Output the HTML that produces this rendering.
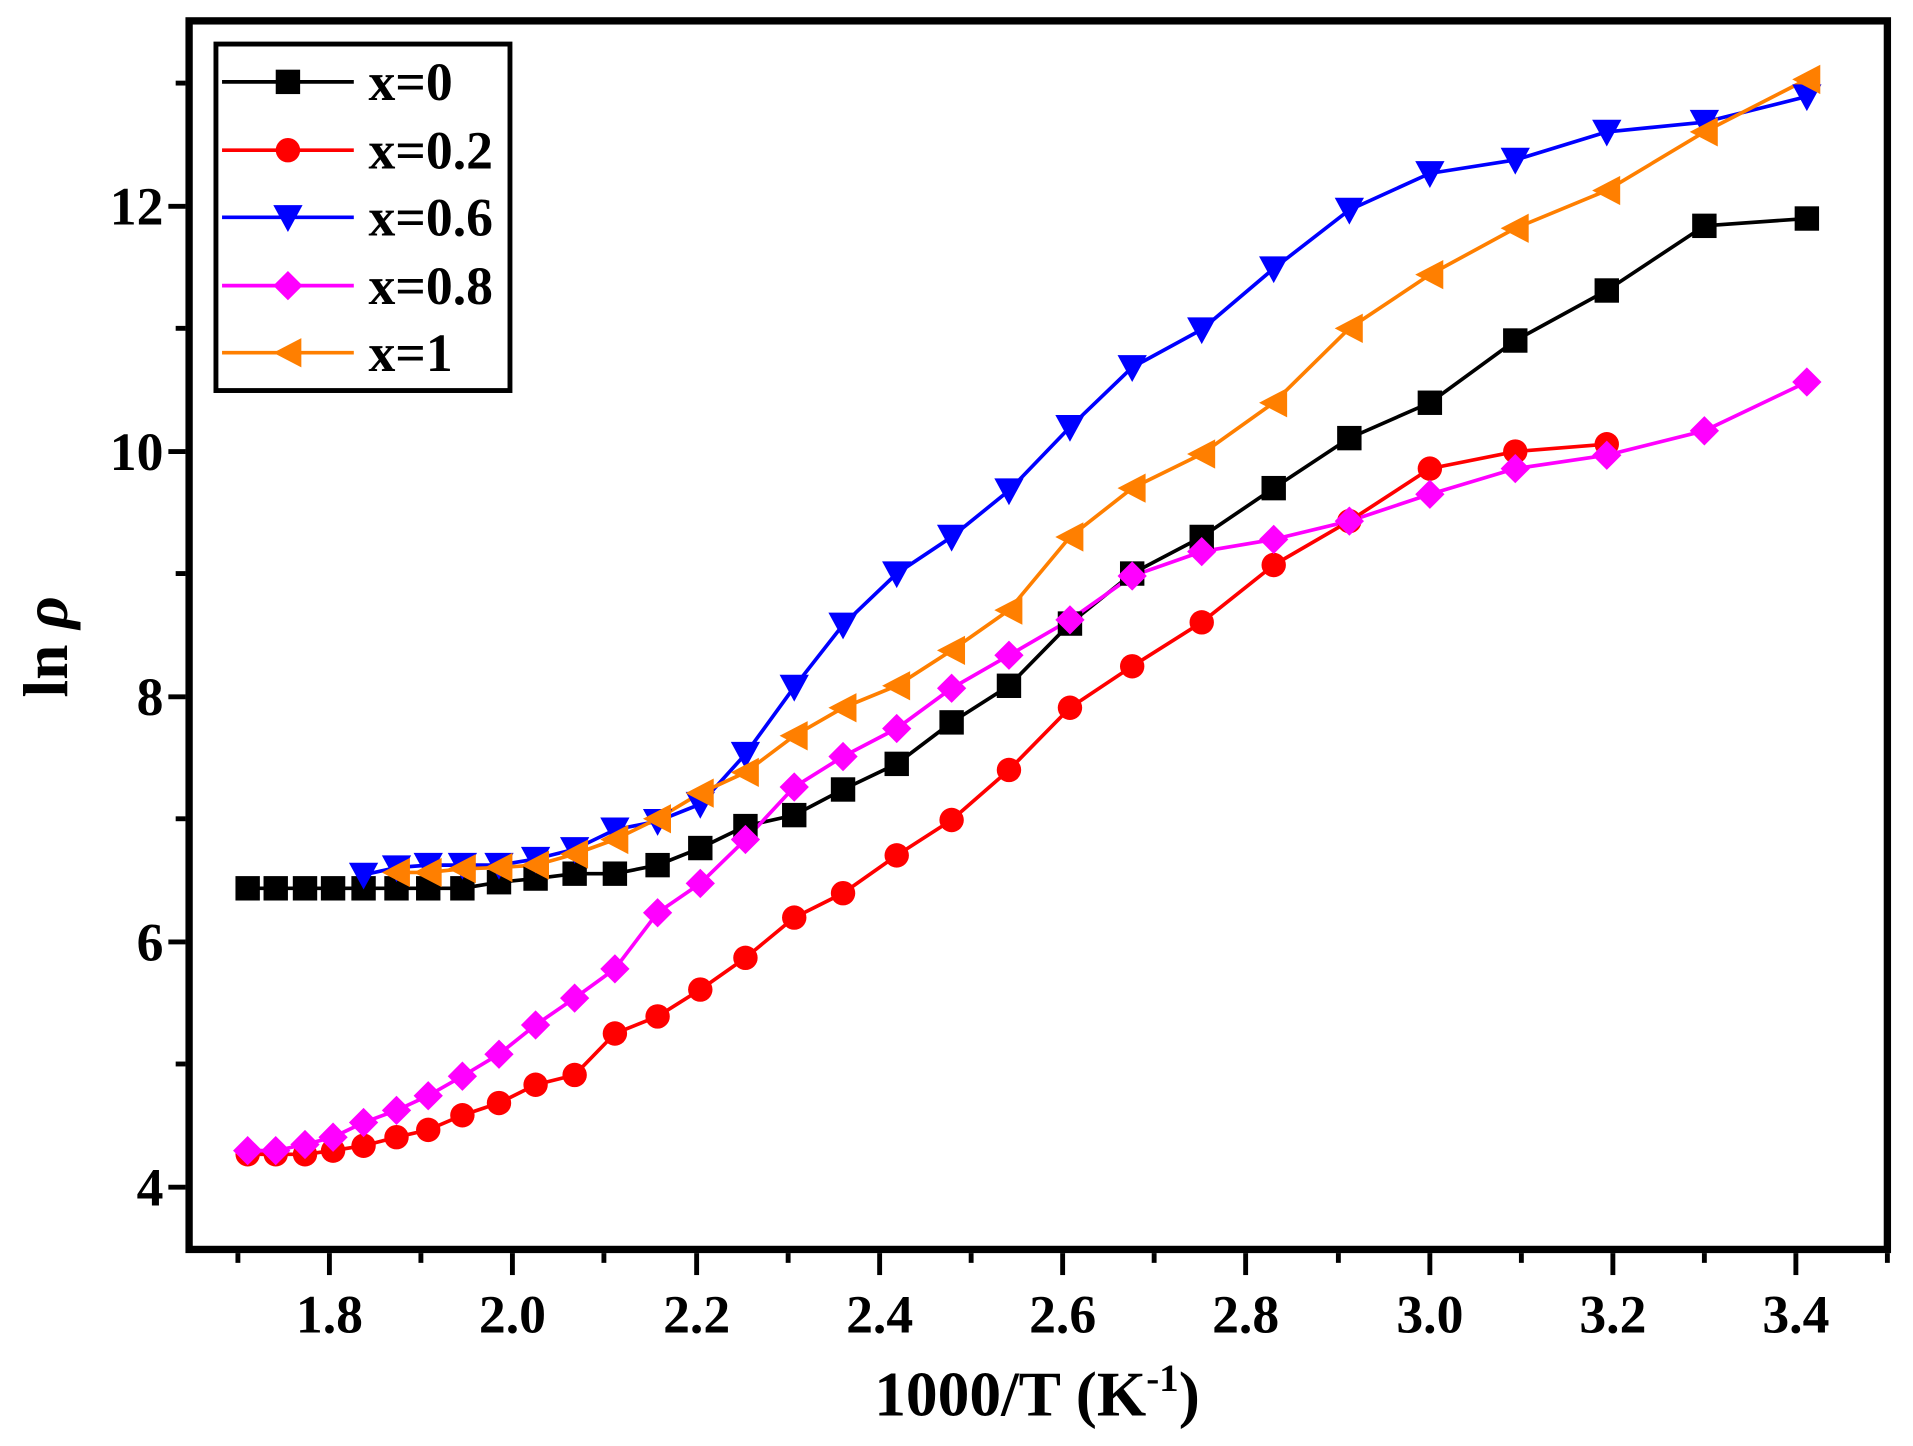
<!DOCTYPE html>
<html><head><meta charset="utf-8"><style>html,body{margin:0;padding:0;background:#fff}svg{display:block}</style></head>
<body>
<svg width="1913" height="1446" viewBox="0 0 1568 1185" xmlns="http://www.w3.org/2000/svg" font-family="'Liberation Serif',serif" font-weight="bold">
<defs>
<rect id="sq" x="-10" y="-10" width="20" height="20" fill="#000"/>
<circle id="ci" r="10" fill="#ff0000"/>
<polygon id="tr" points="-12,-10 12,-10 0,12" fill="#0000ff"/>
<polygon id="di" points="0,-12 12,0 0,12 -12,0" fill="#ff00ff"/>
<polygon id="tl" points="-12,0 11,-12 11,12" fill="#ff7f00"/>
</defs>
<g fill="none" stroke-width="3" stroke-linejoin="round">
<polyline stroke="#000" points="203,728 226,728 250,728 273,728 298,728 325,728 351,728 379,728 409,723 439,720 471,716 504,716 539,709 574,695 611,677 651,668 691,647 735,626 780,592 827,562 877,511 928,470 985,440 1044,400 1106,359 1172,330 1242,279 1317,238 1397,185 1481,179"/>
<polyline stroke="#ff0000" points="203,946 226,946 250,946 273,943 298,939 325,932 351,926 379,914 409,904 439,889 471,881 504,847 539,833 574,811 611,785 651,752 691,732 735,701 780,672 827,631 877,580 928,546 985,510 1044,463 1106,427 1172,384 1242,370 1317,364"/>
<polyline stroke="#0000ff" points="298,717 325,711 351,709 379,709 409,709 439,704 471,696 504,680 539,673 574,659 611,618 651,563 691,512 735,470 780,440 827,402 877,350 928,301 985,270 1044,220 1106,172 1172,142 1242,131 1317,108 1397,100 1481,79"/>
<polyline stroke="#ff00ff" points="203,943 226,943 250,938 273,932 298,920 325,910 351,898 379,882 409,864 439,840 471,818 504,794 539,748 574,724 611,688 651,645 691,620 735,597 780,564 827,537 877,508 928,472 985,452 1044,442 1106,427 1172,405 1242,384 1317,373 1397,353 1481,313"/>
<polyline stroke="#ff7f00" points="325,715 351,715 379,712 409,711 439,709 471,700 504,688 539,671 574,650 611,633 651,603 691,580 735,562 780,533 827,500 877,440 928,400 985,372 1044,330 1106,269 1172,225 1242,187 1317,156 1397,108 1481,65"/>
</g>
<g>
<use href="#sq" x="203" y="728"/><use href="#sq" x="226" y="728"/><use href="#sq" x="250" y="728"/><use href="#sq" x="273" y="728"/><use href="#sq" x="298" y="728"/><use href="#sq" x="325" y="728"/><use href="#sq" x="351" y="728"/><use href="#sq" x="379" y="728"/><use href="#sq" x="409" y="723"/><use href="#sq" x="439" y="720"/><use href="#sq" x="471" y="716"/><use href="#sq" x="504" y="716"/><use href="#sq" x="539" y="709"/><use href="#sq" x="574" y="695"/><use href="#sq" x="611" y="677"/><use href="#sq" x="651" y="668"/><use href="#sq" x="691" y="647"/><use href="#sq" x="735" y="626"/><use href="#sq" x="780" y="592"/><use href="#sq" x="827" y="562"/><use href="#sq" x="877" y="511"/><use href="#sq" x="928" y="470"/><use href="#sq" x="985" y="440"/><use href="#sq" x="1044" y="400"/><use href="#sq" x="1106" y="359"/><use href="#sq" x="1172" y="330"/><use href="#sq" x="1242" y="279"/><use href="#sq" x="1317" y="238"/><use href="#sq" x="1397" y="185"/><use href="#sq" x="1481" y="179"/>
<use href="#ci" x="203" y="946"/><use href="#ci" x="226" y="946"/><use href="#ci" x="250" y="946"/><use href="#ci" x="273" y="943"/><use href="#ci" x="298" y="939"/><use href="#ci" x="325" y="932"/><use href="#ci" x="351" y="926"/><use href="#ci" x="379" y="914"/><use href="#ci" x="409" y="904"/><use href="#ci" x="439" y="889"/><use href="#ci" x="471" y="881"/><use href="#ci" x="504" y="847"/><use href="#ci" x="539" y="833"/><use href="#ci" x="574" y="811"/><use href="#ci" x="611" y="785"/><use href="#ci" x="651" y="752"/><use href="#ci" x="691" y="732"/><use href="#ci" x="735" y="701"/><use href="#ci" x="780" y="672"/><use href="#ci" x="827" y="631"/><use href="#ci" x="877" y="580"/><use href="#ci" x="928" y="546"/><use href="#ci" x="985" y="510"/><use href="#ci" x="1044" y="463"/><use href="#ci" x="1106" y="427"/><use href="#ci" x="1172" y="384"/><use href="#ci" x="1242" y="370"/><use href="#ci" x="1317" y="364"/>
<use href="#tr" x="298" y="717"/><use href="#tr" x="325" y="711"/><use href="#tr" x="351" y="709"/><use href="#tr" x="379" y="709"/><use href="#tr" x="409" y="709"/><use href="#tr" x="439" y="704"/><use href="#tr" x="471" y="696"/><use href="#tr" x="504" y="680"/><use href="#tr" x="539" y="673"/><use href="#tr" x="574" y="659"/><use href="#tr" x="611" y="618"/><use href="#tr" x="651" y="563"/><use href="#tr" x="691" y="512"/><use href="#tr" x="735" y="470"/><use href="#tr" x="780" y="440"/><use href="#tr" x="827" y="402"/><use href="#tr" x="877" y="350"/><use href="#tr" x="928" y="301"/><use href="#tr" x="985" y="270"/><use href="#tr" x="1044" y="220"/><use href="#tr" x="1106" y="172"/><use href="#tr" x="1172" y="142"/><use href="#tr" x="1242" y="131"/><use href="#tr" x="1317" y="108"/><use href="#tr" x="1397" y="100"/><use href="#tr" x="1481" y="79"/>
<use href="#di" x="203" y="943"/><use href="#di" x="226" y="943"/><use href="#di" x="250" y="938"/><use href="#di" x="273" y="932"/><use href="#di" x="298" y="920"/><use href="#di" x="325" y="910"/><use href="#di" x="351" y="898"/><use href="#di" x="379" y="882"/><use href="#di" x="409" y="864"/><use href="#di" x="439" y="840"/><use href="#di" x="471" y="818"/><use href="#di" x="504" y="794"/><use href="#di" x="539" y="748"/><use href="#di" x="574" y="724"/><use href="#di" x="611" y="688"/><use href="#di" x="651" y="645"/><use href="#di" x="691" y="620"/><use href="#di" x="735" y="597"/><use href="#di" x="780" y="564"/><use href="#di" x="827" y="537"/><use href="#di" x="877" y="508"/><use href="#di" x="928" y="472"/><use href="#di" x="985" y="452"/><use href="#di" x="1044" y="442"/><use href="#di" x="1106" y="427"/><use href="#di" x="1172" y="405"/><use href="#di" x="1242" y="384"/><use href="#di" x="1317" y="373"/><use href="#di" x="1397" y="353"/><use href="#di" x="1481" y="313"/>
<use href="#tl" x="325" y="715"/><use href="#tl" x="351" y="715"/><use href="#tl" x="379" y="712"/><use href="#tl" x="409" y="711"/><use href="#tl" x="439" y="709"/><use href="#tl" x="471" y="700"/><use href="#tl" x="504" y="688"/><use href="#tl" x="539" y="671"/><use href="#tl" x="574" y="650"/><use href="#tl" x="611" y="633"/><use href="#tl" x="651" y="603"/><use href="#tl" x="691" y="580"/><use href="#tl" x="735" y="562"/><use href="#tl" x="780" y="533"/><use href="#tl" x="827" y="500"/><use href="#tl" x="877" y="440"/><use href="#tl" x="928" y="400"/><use href="#tl" x="985" y="372"/><use href="#tl" x="1044" y="330"/><use href="#tl" x="1106" y="269"/><use href="#tl" x="1172" y="225"/><use href="#tl" x="1242" y="187"/><use href="#tl" x="1317" y="156"/><use href="#tl" x="1397" y="108"/><use href="#tl" x="1481" y="65"/>
</g>
<rect x="155" y="17" width="1392" height="1007" fill="none" stroke="#000" stroke-width="6"/>
<g stroke="#000" stroke-width="4">
<line x1="152" y1="169" x2="138" y2="169"/><line x1="152" y1="370" x2="138" y2="370"/><line x1="152" y1="571" x2="138" y2="571"/><line x1="152" y1="772" x2="138" y2="772"/><line x1="152" y1="973" x2="138" y2="973"/>
<line x1="152" y1="68" x2="144" y2="68"/><line x1="152" y1="269" x2="144" y2="269"/><line x1="152" y1="470" x2="144" y2="470"/><line x1="152" y1="671" x2="144" y2="671"/><line x1="152" y1="872" x2="144" y2="872"/>
<line x1="270" y1="1027" x2="270" y2="1045"/><line x1="420" y1="1027" x2="420" y2="1045"/><line x1="571" y1="1027" x2="571" y2="1045"/><line x1="721" y1="1027" x2="721" y2="1045"/><line x1="871" y1="1027" x2="871" y2="1045"/><line x1="1021" y1="1027" x2="1021" y2="1045"/><line x1="1172" y1="1027" x2="1172" y2="1045"/><line x1="1322" y1="1027" x2="1322" y2="1045"/><line x1="1472" y1="1027" x2="1472" y2="1045"/>
<line x1="195" y1="1027" x2="195" y2="1035"/><line x1="345" y1="1027" x2="345" y2="1035"/><line x1="495" y1="1027" x2="495" y2="1035"/><line x1="646" y1="1027" x2="646" y2="1035"/><line x1="796" y1="1027" x2="796" y2="1035"/><line x1="946" y1="1027" x2="946" y2="1035"/><line x1="1097" y1="1027" x2="1097" y2="1035"/><line x1="1247" y1="1027" x2="1247" y2="1035"/><line x1="1397" y1="1027" x2="1397" y2="1035"/><line x1="1547" y1="1027" x2="1547" y2="1035"/>
</g>
<g font-size="44" text-anchor="end">
<text x="134" y="184">12</text><text x="134" y="385">10</text><text x="134" y="586">8</text><text x="134" y="787">6</text><text x="134" y="988">4</text>
</g>
<g font-size="44" text-anchor="middle">
<text x="270" y="1092">1.8</text><text x="420" y="1092">2.0</text><text x="571" y="1092">2.2</text><text x="721" y="1092">2.4</text><text x="871" y="1092">2.6</text><text x="1021" y="1092">2.8</text><text x="1172" y="1092">3.0</text><text x="1322" y="1092">3.2</text><text x="1472" y="1092">3.4</text>
</g>
<text x="850" y="1160" font-size="52" text-anchor="middle">1000/T (K<tspan font-size="32" dy="-20">-1</tspan><tspan dy="20">)</tspan></text>
<text transform="translate(55,530) rotate(-90)" font-size="52" text-anchor="middle">ln <tspan font-style="italic">ρ</tspan></text>
<rect x="177" y="36" width="241" height="284" fill="#fff" stroke="#000" stroke-width="4"/>
<g stroke-width="3">
<line x1="182" y1="67" x2="290" y2="67" stroke="#000"/><line x1="182" y1="123" x2="290" y2="123" stroke="#ff0000"/><line x1="182" y1="178" x2="290" y2="178" stroke="#0000ff"/><line x1="182" y1="234" x2="290" y2="234" stroke="#ff00ff"/><line x1="182" y1="289" x2="290" y2="289" stroke="#ff7f00"/>
</g>
<use href="#sq" x="236" y="67"/><use href="#ci" x="236" y="123"/><use href="#tr" x="236" y="178"/><use href="#di" x="236" y="234"/><use href="#tl" x="236" y="289"/>
<g font-size="44">
<text x="302" y="82">x=0</text><text x="302" y="138">x=0.2</text><text x="302" y="193">x=0.6</text><text x="302" y="249">x=0.8</text><text x="302" y="304">x=1</text>
</g>
</svg>
</body></html>
